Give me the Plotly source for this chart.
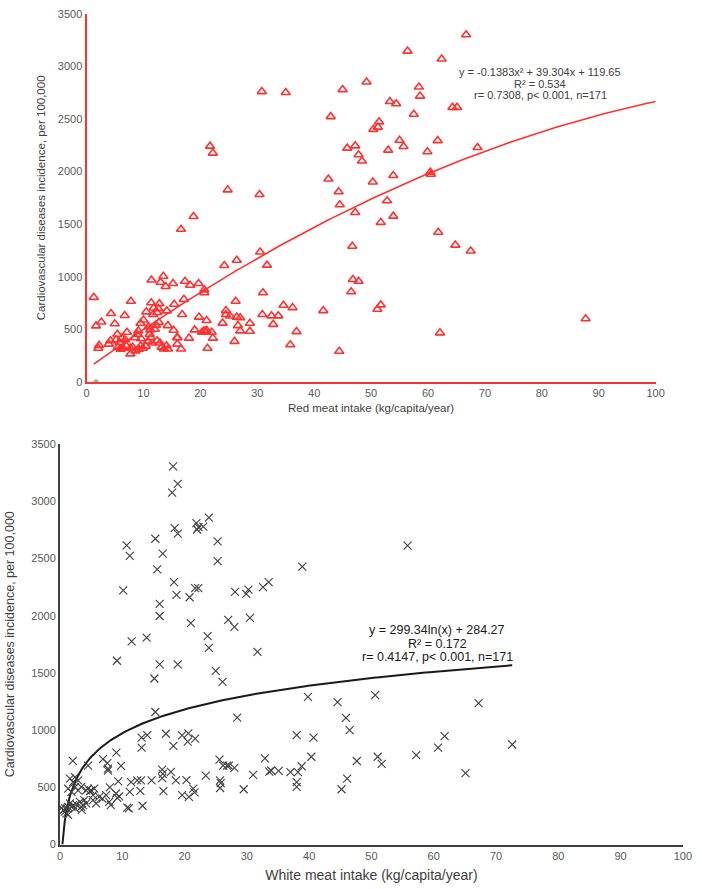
import numpy as np
import plotly.graph_objects as go

# ---------------- Data: red meat (top panel) ----------------
red_x = [66.7, 56.4, 62.4, 49.2, 58.4, 45.0, 30.8, 35.0, 58.6, 53.3, 54.4, 64.3, 65.1, 57.5, 42.9,
         51.4, 51.2, 50.4, 55.0, 61.7, 47.2, 21.7, 55.7, 68.7, 45.8, 53.0, 59.9, 22.2, 47.8, 48.4,
         60.4, 60.5, 53.9, 42.5, 50.3, 24.8, 44.3, 30.4, 52.8, 44.5, 47.2, 53.9, 18.8, 51.7, 16.6,
         61.8, 64.8, 46.7, 67.5, 30.5, 26.4, 31.7, 24.2,
         31.0, 30.9, 32.5, 32.8, 33.7, 34.6, 36.2, 35.8, 36.9, 41.6, 44.4, 46.8, 47.8, 46.5, 51.7,
         51.1, 62.1, 87.7,
         20.7, 20.7, 21.1, 21.25, 20.3, 20.6, 20.9, 21.1, 22.0, 22.2, 23.9, 24.5, 24.5, 25.2, 26.0,
         26.2, 26.4, 26.6, 27.0, 27.0, 28.7, 28.7, 19.7, 19.75, 19.0, 18.0, 18.2, 17.3, 17.1, 16.8,
         16.6, 15.95, 15.9, 15.2, 15.3, 15.4, 14.3, 14.1, 14.3, 14.05, 13.6, 12.9, 12.4, 12.7, 13.9,
         13.5, 13.0, 12.8, 12.6, 12.4, 11.8, 11.4, 11.35, 11.7, 10.5, 10.0, 9.5, 9.1, 8.9, 10.9,
         11.2, 11.1, 11.3, 11.5, 10.8, 10.4, 9.9, 9.5, 9.2, 8.6, 8.1, 7.7, 7.7, 7.1, 6.8,
         7.8, 6.7, 5.4, 5.2, 5.8, 5.5, 6.0, 6.4, 7.0, 4.96, 4.3, 4.2, 3.9, 2.07, 2.2,
         2.6, 1.67, 1.27, 12.0, 12.2, 9.6, 8.5, 6.2, 13.2, 16.0]
red_y = [3302, 3146, 3071, 2852, 2805, 2780, 2761, 2752, 2718, 2667, 2645, 2611, 2611, 2545, 2523,
         2473, 2423, 2402, 2298, 2295, 2245, 2242, 2239, 2229, 2223, 2204, 2189, 2176, 2160, 2101,
         1995, 1975, 1963, 1930, 1901, 1826, 1808, 1782, 1723, 1684, 1611, 1576, 1573, 1517, 1451,
         1423, 1301, 1290, 1245, 1235, 1157, 1110, 1107,
         847, 641, 628, 547, 628, 729, 706, 353, 478, 678, 291, 973, 957, 857, 732,
         691, 466, 600,
         875, 847, 584, 319, 472, 485, 480, 491, 472, 416, 559, 678, 641, 626, 385,
         766, 616, 535, 485, 610, 557, 481, 935, 616, 494, 416, 919, 957, 785, 641,
         312, 359, 422, 935, 491, 738, 535, 675, 312, 344, 312, 369, 391, 566, 907,
         1004, 947, 744, 697, 660, 703, 969, 753, 641, 666, 588, 557, 485, 453, 525,
         494, 453, 420, 369, 385, 340, 320, 340, 310, 295, 330, 322, 266, 472, 400,
         766, 631, 453, 400, 375, 330, 310, 320, 340, 553, 650, 391, 359, 319, 347,
         569, 532, 804, 500, 540, 410, 420, 416, 330, 420]
red_extra_x = [1.67]
red_extra_y = [0]
red_coef = [-0.1383, 39.304, 119.65]   # quadratic fit: a, b, c

# ---------------- Data: white meat (bottom panel) ----------------
white_x = [18.15, 18.9, 18.0, 23.9, 21.9, 22.25, 23.0, 22.0, 18.4, 18.9, 15.3, 10.7, 11.2, 16.5, 25.3,
           25.3, 15.6, 10.15, 18.3, 18.7, 16.0, 16.0, 20.8, 21.7, 22.2, 21.0, 28.1, 29.9, 30.25, 32.6,
           33.5, 38.9, 27.0, 28.0, 30.5, 23.7, 23.9, 11.5, 13.9, 31.7, 55.8, 9.15, 16.0, 18.9, 15.15,
           25.0, 26.1, 15.3, 28.45, 39.8, 44.55, 45.9, 50.6, 67.2, 46.5, 61.75, 60.7, 72.6, 57.2, 51.0,
           51.65, 47.65, 65.1, 46.1, 45.2, 38.0, 40.7, 40.35, 38.8, 38.2, 38.0, 38.0, 37.0, 35.1, 33.6,
           33.9, 32.9, 31.0, 29.5, 25.7, 25.8, 25.7, 25.6, 26.2, 26.8, 27.1, 28.0, 23.4, 19.6, 20.6,
           20.5, 21.7, 18.2, 17.0, 13.1, 14.0, 13.1, 17.8, 16.4, 16.5, 16.4, 16.6, 14.7, 13.0, 12.9,
           12.4, 11.4, 11.2, 9.35, 9.5, 9.0, 8.0, 18.6, 20.3, 19.6, 20.7, 21.6, 21.4, 9.05, 9.8,
           6.9, 7.6, 7.7, 7.7, 4.5, 2.05, 13.25, 10.8, 11.05, 8.15, 9.2, 7.9, 7.4, 6.8, 6.3,
           5.8, 5.3, 5.3, 5.0, 4.5, 5.5, 4.2, 3.4, 2.9, 4.8, 1.6, 2.1, 2.4, 2.9, 1.3,
           1.85, 2.4, 3.2, 3.7, 3.9, 3.4, 2.6, 4.2, 1.6, 1.85, 2.1, 1.3, 2.4, 0.27, 0.8,
           1.05, 1.3, 0.8, 3.5, 0.55, 1.1]
white_y = [3305, 3152, 3075, 2856, 2808, 2773, 2779, 2753, 2764, 2716, 2672, 2615, 2523, 2543, 2649,
           2477, 2405, 2221, 2293, 2181, 2103, 1997, 2161, 2241, 2241, 1934, 2207, 2190, 2227, 2250,
           2293, 2428, 1963, 1902, 1980, 1822, 1718, 1776, 1808, 1684, 2612, 1606, 1575, 1575, 1451,
           1517, 1422, 1158, 1109, 1290, 1244, 1106, 1305, 1236, 1000, 948, 847, 874, 782, 767,
           704, 730, 624, 575, 483, 957, 934, 767, 684, 632, 546, 503, 632, 644, 638,
           647, 753, 609, 483, 560, 537, 494, 741, 690, 690, 690, 670, 603, 954, 972,
           899, 925, 862, 968, 934, 957, 847, 635, 655, 618, 580, 466, 560, 560, 468,
           560, 546, 460, 552, 420, 446, 500, 560, 563, 431, 416, 455, 489, 804, 688,
           747, 712, 663, 645, 690, 731, 339, 322, 316, 345, 408, 373, 431, 402, 416,
           359, 388, 431, 474, 489, 489, 474, 503, 474, 466, 575, 546, 589, 560, 489,
           460, 503, 373, 345, 388, 330, 351, 359, 359, 330, 345, 330, 316, 320, 316,
           273, 259, 287, 302, 300, 316]
white_coef = [299.34, 284.27]          # log fit: a*ln(x) + b

x_ticks = [0, 10, 20, 30, 40, 50, 60, 70, 80, 90, 100]
y_ticks = [0, 500, 1000, 1500, 2000, 2500, 3000, 3500]

# ---------------- Figure ----------------
W, H = 702, 889
def pxx(p):
    return p / W
def pxy(p):
    return 1 - p / H

RED = "#ff3030"
DARK = "#404040"
FONT = "Liberation Sans, Arial, sans-serif"

fig = go.Figure()

# trend lines from fitted coefficients
rx = np.linspace(min(red_x), 100, 200)
ry = red_coef[0] * rx**2 + red_coef[1] * rx + red_coef[2]
fig.add_trace(go.Scatter(x=rx, y=ry, mode="lines", line=dict(color=RED, width=1.6),
                         xaxis="x", yaxis="y", hoverinfo="skip"))
fig.add_trace(go.Scatter(x=red_x, y=red_y, mode="markers",
                         marker=dict(symbol="triangle-up-open", size=8, color=RED, line=dict(width=1.6)),
                         xaxis="x", yaxis="y"))
fig.add_trace(go.Scatter(x=red_extra_x, y=red_extra_y, mode="markers",
                         marker=dict(symbol="circle", size=5, color="#a6a6a6"),
                         xaxis="x", yaxis="y", cliponaxis=False))

wx = np.linspace(0.387, max(white_x), 400)
wy = white_coef[0] * np.log(wx) + white_coef[1]
fig.add_trace(go.Scatter(x=wx, y=wy, mode="lines", line=dict(color="#1a1a1a", width=2),
                         xaxis="x2", yaxis="y2", hoverinfo="skip"))
fig.add_trace(go.Scatter(x=white_x, y=white_y, mode="markers",
                         marker=dict(symbol="x-thin-open", size=8, color=DARK, line=dict(width=1.1, color=DARK)),
                         xaxis="x2", yaxis="y2"))

tickfont = dict(family=FONT, size=11, color="#595959")

common_axis = dict(showgrid=False, zeroline=False, ticks="", tickfont=tickfont, showline=True)

fig.update_layout(
    width=W, height=H, margin=dict(l=0, r=0, t=0, b=0),
    paper_bgcolor="white", plot_bgcolor="white", showlegend=False,
    xaxis=dict(common_axis, domain=[pxx(85), pxx(664)], range=[0, 100], tickvals=x_ticks,
               linecolor=RED, linewidth=2, anchor="y",
               title=dict(text="Red meat intake (kg/capita/year)", font=dict(family=FONT, size=11.5, color="#404040"),
                          standoff=6)),
    yaxis=dict(common_axis, domain=[pxy(381), pxy(8)], range=[0, 3500], tickvals=y_ticks,
               linecolor=RED, linewidth=2, anchor="x",
               title=dict(text="Cardiovascular diseases incidence, per 100,000",
                          font=dict(family=FONT, size=11.5, color="#404040"), standoff=10)),
    xaxis2=dict(common_axis, domain=[pxx(58), pxx(691.7)], range=[0, 100], tickvals=x_ticks,
                linecolor=DARK, linewidth=2, anchor="y2",
                title=dict(text="White meat intake (kg/capita/year)", font=dict(family=FONT, size=14, color="#404040"),
                           standoff=9)),
    yaxis2=dict(common_axis, domain=[pxy(850), pxy(444)], range=[0, 3500], tickvals=y_ticks,
                linecolor=DARK, linewidth=2, anchor="x2",
                title=dict(text="Cardiovascular diseases incidence, per 100,000",
                           font=dict(family=FONT, size=12.5, color="#404040"), standoff=14)),
)

ann_top = ["y = -0.1383x² + 39.304x + 119.65", "R² = 0.534", "r= 0.7308, p< 0.001, n=171"]
for i, t in enumerate(ann_top):
    fig.add_annotation(text=t, x=pxx(546.7), y=pxy(66.7 + 12 * i), xref="paper", yref="paper",
                       showarrow=False, xanchor="center", yanchor="middle",
                       font=dict(family=FONT, size=11, color="#404040"))
ann_bot = ["y = 299.34ln(x) + 284.27", "R² = 0.172", "r= 0.4147, p< 0.001, n=171"]
for i, t in enumerate(ann_bot):
    fig.add_annotation(text=t, x=pxx(441.7), y=pxy(632.7 + 13.7 * i), xref="paper", yref="paper",
                       showarrow=False, xanchor="center", yanchor="middle",
                       font=dict(family=FONT, size=12.5, color="#1a1a1a"))

fig.write_html("out.html")
